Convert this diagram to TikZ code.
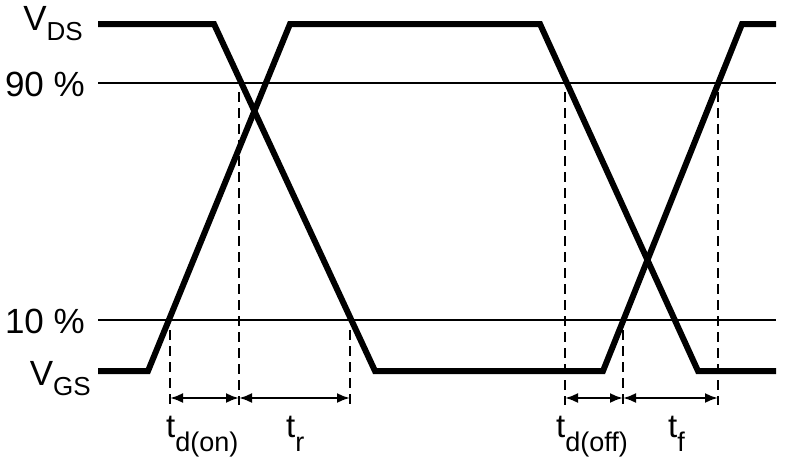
\documentclass[tikz,border=0pt]{standalone}
\usepackage{fontspec}
\setmainfont{Liberation Sans}
\usetikzlibrary{arrows.meta,positioning,calc}
% lowered subscript: #1 drop, #2 size, #3 text
\newcommand{\lowsub}[3]{\raisebox{-#1}{\fontsize{#2}{#2}\selectfont #3}}
\tikzset{
	wave/.style={
		line width=6pt, line join=miter
	},
	%
	level/.style={
		line width=2.3pt
	},
	%
	guide/.style={
		line width=2.5pt, dash pattern=on 10pt off 6pt
	},
	%
	span/.style={
		line width=2.3pt, {Latex[length=13pt,width=10pt]}-{Latex[length=13pt,width=10pt]}
	},
	%
	axislabel/.style={
		anchor=base east, inner sep=0pt, font=\fontsize{35}{35}\selectfont
	},
	%
	timelabel/.style={
		anchor=base west, inner sep=0pt, font=\fontsize{33}{33}\selectfont
	}
}

\begin{document}
\begin{tikzpicture}[x=1pt, y=-1pt]
    \useasboundingbox (0,0) rectangle (796,461);
    % levels
    \node(VDS)[axislabel] at (83,30){V\lowsub{10pt}{26}{DS}};
    \node(High)[axislabel] at (85,96){90 \%};
    \node(Low)[axislabel] at (85,333){10 \%};
    \node(VGS)[axislabel] at (91,385){V\lowsub{10pt}{26}{GS}};
    \coordinate(HighL) at (98,83);
    \coordinate(HighR) at (776,83);
    \coordinate(LowL) at (98,320);
    \coordinate(LowR) at (776,320);
    \draw[level] (HighL) -- (HighR);
    \draw[level] (LowL) -- (LowR);
    % waveforms
    \draw[wave] (98,24) -- (214,24) -- (375,371) -- (603,371) -- (742,24) -- (776,24);
    \draw[wave] (98,371) -- (148,371) -- (290,24) -- (540,24) -- (698,371) -- (776,371);
    % guides and spans
    \foreach \name/\x/\top in {A/170/330, B/239/92, C/350/330, D/565/92, E/623/330, F/718/92}{
        \coordinate(\name top) at (\x,\top);
        \coordinate(\name) at (\x,398);
        \draw[guide] (\name top) -- ([yshift=-7pt]\name);
    }
    \draw[span] (A) -- (B);
    \draw[span] (B) -- (C);
    \draw[span] (D) -- (E);
    \draw[span] (E) -- (F);
    \node(tdon)[timelabel] at (166,437){t\lowsub{14pt}{27}{d(on)}};
    \node(tr)[timelabel] at (286,437){t\lowsub{14pt}{27}{r}};
    \node(tdoff)[timelabel] at (556,437){t\lowsub{14pt}{27}{d(off)}};
    \node(tf)[timelabel] at (668,437){t\lowsub{14pt}{27}{f}};
\end{tikzpicture}
\end{document}
